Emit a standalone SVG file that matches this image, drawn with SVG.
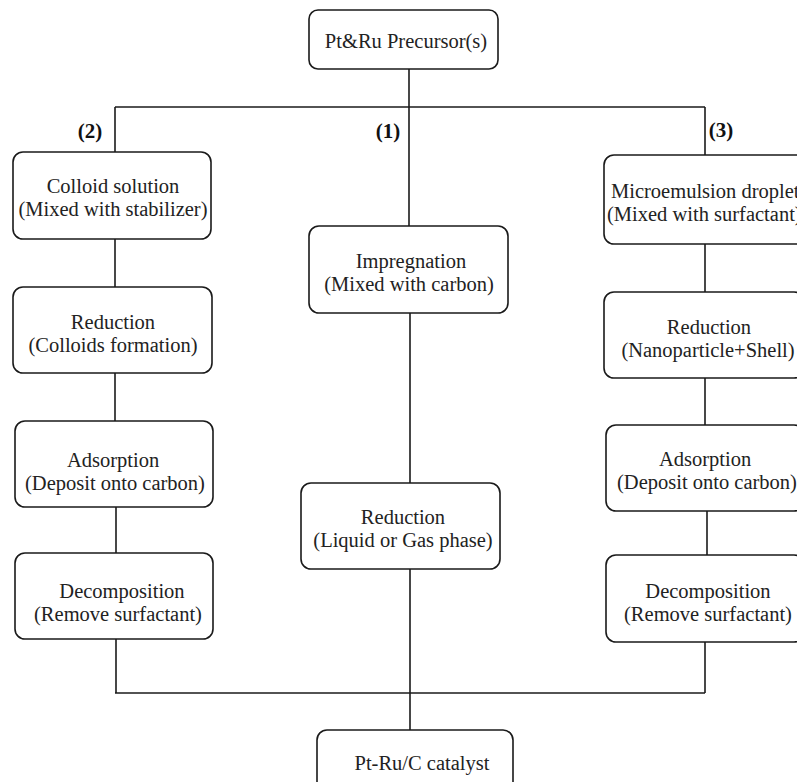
<svg xmlns="http://www.w3.org/2000/svg" width="797" height="782" viewBox="0 0 797 782">
<style>
.box{fill:#fff;stroke:#1a1a1a;stroke-width:1.6}
.t{font-family:"Liberation Serif","Times New Roman",serif;font-size:20.5px;fill:#222;text-anchor:middle}
.s{text-anchor:start}
.lbl{font-family:"Liberation Serif","Times New Roman",serif;font-size:21px;font-weight:bold;fill:#111;text-anchor:middle}
.ln{stroke:#1a1a1a;stroke-width:1.6;fill:none}
</style>
<rect width="797" height="782" fill="#fff"/>
<g id="connectors">
<line class="ln" x1="409" y1="69" x2="409" y2="226"/>
<line class="ln" x1="115" y1="107" x2="705" y2="107"/>
<line class="ln" x1="115" y1="107" x2="115" y2="152"/>
<line class="ln" x1="705" y1="107" x2="705" y2="155"/>
<line class="ln" x1="115" y1="239" x2="115" y2="287"/>
<line class="ln" x1="115" y1="373" x2="115" y2="421"/>
<line class="ln" x1="116" y1="507" x2="116" y2="553"/>
<line class="ln" x1="116" y1="639" x2="116" y2="693"/>
<line class="ln" x1="705" y1="244" x2="705" y2="292"/>
<line class="ln" x1="705" y1="378" x2="705" y2="425"/>
<line class="ln" x1="707" y1="511" x2="707" y2="555"/>
<line class="ln" x1="705" y1="642" x2="705" y2="693"/>
<line class="ln" x1="410" y1="313" x2="410" y2="483"/>
<line class="ln" x1="410" y1="569" x2="410" y2="730"/>
<line class="ln" x1="115" y1="693" x2="705" y2="693"/>
</g>
<g id="labels">
<text class="lbl" x="388" y="138">(1)</text>
<text class="lbl" x="90" y="138">(2)</text>
<text class="lbl" x="721" y="137">(3)</text>
</g>
<g id="n-precursor">
<rect class="box" x="309" y="10" width="189" height="59" rx="9"/>
<text class="t" x="406" y="48">Pt&amp;Ru Precursor(s)</text>
</g>
<g id="n-colloid">
<rect class="box" x="13" y="152" width="198" height="87" rx="10"/>
<text class="t" x="113" y="193">Colloid solution</text>
<text class="t" x="113" y="216">(Mixed with stabilizer)</text>
</g>
<g id="n-reduction2">
<rect class="box" x="13" y="287" width="199" height="86" rx="10"/>
<text class="t" x="113" y="329">Reduction</text>
<text class="t" x="113" y="352">(Colloids formation)</text>
</g>
<g id="n-adsorption2">
<rect class="box" x="15" y="421" width="198" height="86" rx="10"/>
<text class="t" x="113" y="467">Adsorption</text>
<text class="t" x="115" y="490">(Deposit onto carbon)</text>
</g>
<g id="n-decomp2">
<rect class="box" x="15" y="553" width="198" height="86" rx="10"/>
<text class="t" x="122" y="598">Decomposition</text>
<text class="t" x="118" y="621">(Remove surfactant)</text>
</g>
<g id="n-impregnation">
<rect class="box" x="309" y="226" width="199" height="87" rx="10"/>
<text class="t" x="411" y="268">Impregnation</text>
<text class="t" x="409" y="291">(Mixed with carbon)</text>
</g>
<g id="n-reduction1">
<rect class="box" x="301" y="483" width="199" height="86" rx="10"/>
<text class="t" x="403" y="524">Reduction</text>
<text class="t" x="403" y="547">(Liquid or Gas phase)</text>
</g>
<g id="n-catalyst">
<rect class="box" x="317" y="730" width="196" height="70" rx="10"/>
<text class="t" x="422" y="770">Pt-Ru/C catalyst</text>
</g>
<g id="n-micro">
<rect class="box" x="604" y="155" width="204" height="89" rx="10"/>
<text class="t s" x="611" y="198">Microemulsion droplets</text>
<text class="t s" x="607" y="221">(Mixed with surfactant)</text>
</g>
<g id="n-reduction3">
<rect class="box" x="604" y="292" width="200" height="86" rx="10"/>
<text class="t" x="709" y="334">Reduction</text>
<text class="t" x="708" y="357">(Nanoparticle+Shell)</text>
</g>
<g id="n-adsorption3">
<rect class="box" x="606" y="425" width="198" height="86" rx="10"/>
<text class="t" x="705" y="466">Adsorption</text>
<text class="t" x="707" y="489">(Deposit onto carbon)</text>
</g>
<g id="n-decomp3">
<rect class="box" x="606" y="555" width="198" height="87" rx="10"/>
<text class="t" x="708" y="598">Decomposition</text>
<text class="t" x="708" y="621">(Remove surfactant)</text>
</g>
</svg>
